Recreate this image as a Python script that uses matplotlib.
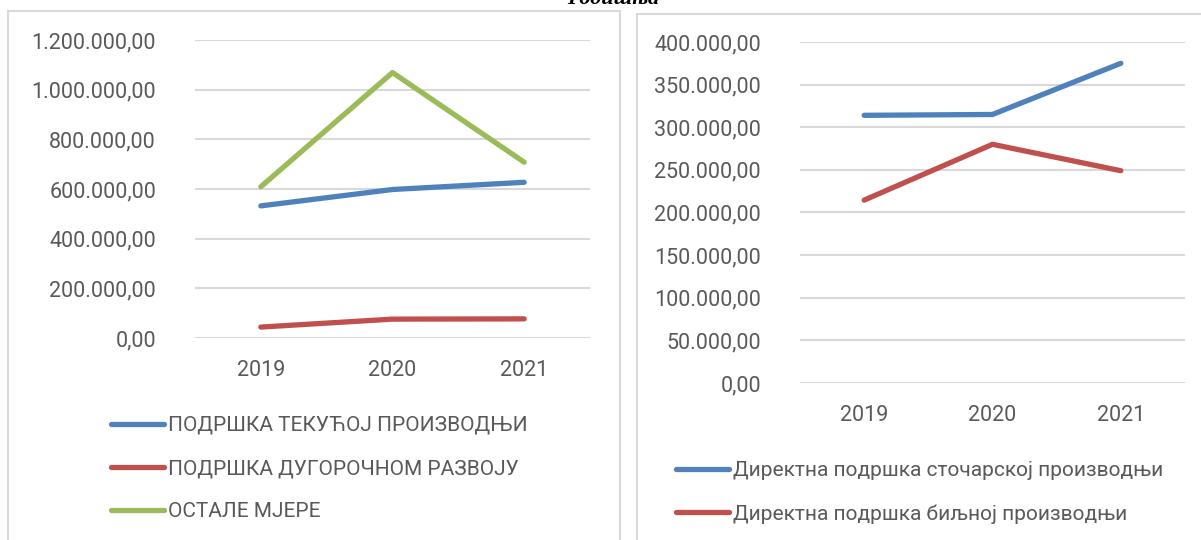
import matplotlib.pyplot as plt
from matplotlib.patches import Rectangle
from matplotlib.ticker import FuncFormatter

years = ["2019", "2020", "2021"]

# left chart
tekuca = [532000, 598000, 627000]
dugorocni = [44000, 76000, 77000]
ostale = [609000, 1069000, 708000]
left_labels = ["ПОДРШКА ТЕКУЋОЈ ПРОИЗВОДЊИ", "ПОДРШКА ДУГОРОЧНОМ РАЗВОЈУ", "ОСТАЛЕ МЈЕРЕ"]

# right chart
stocarska = [314000, 315000, 375000]
biljna = [214500, 280000, 249000]
right_labels = ["Директна подршка сточарској производњи", "Директна подршка биљној производњи"]

BLUE = "#4F81BD"
RED = "#C0504D"
GREEN = "#9BBB59"
TEXT = "#595959"
GRID = "#D9D9D9"

W, H = 1201, 540
plt.rcParams['font.family'] = ['Roboto', 'DejaVu Sans']


def fmt(v, pos=None):
    s = f"{v:,.2f}"
    return s.replace(",", "X").replace(".", ",").replace("X", ".")


def px_axes(fig, x0, x1, ytop, ybot):
    return fig.add_axes([x0 / W, (H - ybot) / H, (x1 - x0) / W, (ybot - ytop) / H])


def style_axes(ax, ymax, step):
    ax.set_xlim(-0.5, 2.5)
    ax.set_ylim(0, ymax)
    ax.set_yticks(range(0, ymax + 1, step))
    ax.yaxis.set_major_formatter(FuncFormatter(fmt))
    ax.set_xticks(range(len(years)), years)
    for s in ax.spines.values():
        s.set_visible(False)
    ax.grid(axis='y', color=GRID, linewidth=1.5)
    ax.set_axisbelow(True)
    ax.tick_params(length=0, labelsize=15.5, colors=TEXT)
    ax.tick_params(axis='y', pad=28)
    ax.tick_params(axis='x', pad=16)
    ax.patch.set_alpha(0)


def style_legend(leg):
    for t in leg.get_texts():
        t.set_color(TEXT)


fig = plt.figure(figsize=(W / 100, H / 100), dpi=100)

# panel frames
fig.patches.append(Rectangle((8 / W, -0.1), (620 - 8) / W, (H - 11) / H + 0.1,
                             transform=fig.transFigure, fill=False, edgecolor=GRID, linewidth=1.5))
fig.patches.append(Rectangle((637 / W, -0.1), (W + 10 - 637) / W, (H - 14) / H + 0.1,
                             transform=fig.transFigure, fill=False, edgecolor=GRID, linewidth=1.5))

fig.text(613 / W, (H - 4) / H, "Годишња", ha='center', va='baseline', fontsize=16,
         family='Liberation Serif', fontweight='bold', fontstyle='italic')

lw = 3.8
leg_kw = dict(bbox_transform=fig.transFigure, loc='upper left', frameon=False, fontsize=15,
              handlelength=2.55, handletextpad=0.2, labelspacing=1.16, borderpad=0, borderaxespad=0)

ax1 = px_axes(fig, 195, 590, 40, 338)
ax1.plot(range(3), tekuca, color=BLUE, lw=lw, solid_capstyle='round', label=left_labels[0])
ax1.plot(range(3), dugorocni, color=RED, lw=lw, solid_capstyle='round', label=left_labels[1])
ax1.plot(range(3), ostale, color=GREEN, lw=lw, solid_capstyle='round', label=left_labels[2])
style_axes(ax1, 1200000, 200000)
style_legend(ax1.legend(bbox_to_anchor=(111 / W, (H - 416) / H), **leg_kw))

ax2 = px_axes(fig, 800, 1185, 42, 383)
ax2.plot(range(3), stocarska, color=BLUE, lw=lw, solid_capstyle='round', label=right_labels[0])
ax2.plot(range(3), biljna, color=RED, lw=lw, solid_capstyle='round', label=right_labels[1])
style_axes(ax2, 400000, 50000)
style_legend(ax2.legend(bbox_to_anchor=(676 / W, (H - 461) / H), **leg_kw))

fig.savefig("out.png", dpi=100)
